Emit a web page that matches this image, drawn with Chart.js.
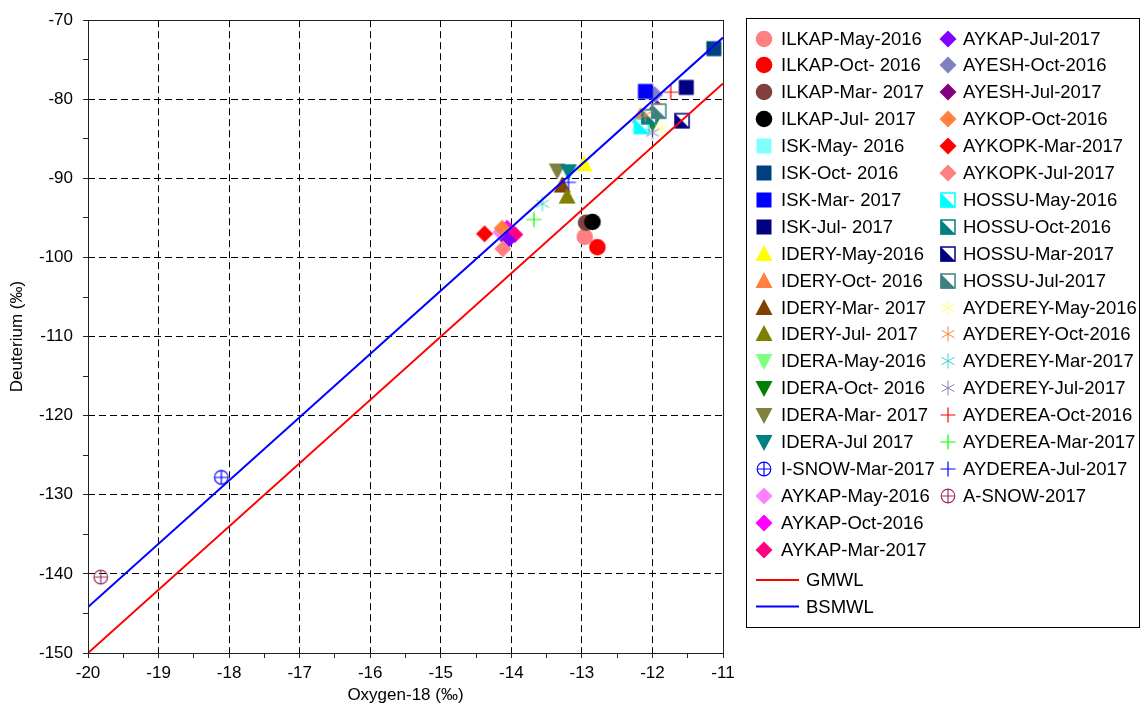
<!DOCTYPE html>
<html>
<head>
<meta charset="utf-8">
<script src="https://cdn.jsdelivr.net/npm/chart.js@4.4.1/dist/chart.umd.min.js"></script>
<style>
  html, body { margin: 0; padding: 0; background: #ffffff; }
  canvas { display: block; }
</style>
</head>
<body>
<canvas id="isotopes" width="1142" height="710"></canvas>
<script>
// Sample identifiers (station - sampling campaign)
const sampleNames = [
  'ILKAP-May-2016', 'ILKAP-Oct- 2016', 'ILKAP-Mar- 2017', 'ILKAP-Jul- 2017',
  'ISK-May- 2016', 'ISK-Oct- 2016', 'ISK-Mar- 2017', 'ISK-Jul- 2017',
  'IDERY-May-2016', 'IDERY-Oct- 2016', 'IDERY-Mar- 2017', 'IDERY-Jul- 2017',
  'IDERA-May-2016', 'IDERA-Oct- 2016', 'IDERA-Mar- 2017', 'IDERA-Jul 2017',
  'I-SNOW-Mar-2017', 'AYKAP-May-2016', 'AYKAP-Oct-2016', 'AYKAP-Mar-2017',
  'AYKAP-Jul-2017', 'AYESH-Oct-2016', 'AYESH-Jul-2017', 'AYKOP-Oct-2016',
  'AYKOPK-Mar-2017', 'AYKOPK-Jul-2017', 'HOSSU-May-2016', 'HOSSU-Oct-2016',
  'HOSSU-Mar-2017', 'HOSSU-Jul-2017', 'AYDEREY-May-2016', 'AYDEREY-Oct-2016',
  'AYDEREY-Mar-2017', 'AYDEREY-Jul-2017', 'AYDEREA-Oct-2016', 'AYDEREA-Mar-2017',
  'AYDEREA-Jul-2017', 'A-SNOW-2017'
];

// δ18O (‰ VSMOW)
const oxygen18 = [
  -12.96, -12.78, -12.94, -12.85,
  -12.17, -11.13, -12.10, -11.52,
  -12.97, -12.17, -13.28, -13.21,
  -12.05, -12.00, -13.35, -13.19,
  -18.11, -14.15, -14.06, -13.95,
  -14.05, -11.97, -11.93, -14.13,
  -14.38, -14.12, -12.15, -12.05,
  -11.58, -11.91, -11.87, -12.10,
  -13.56, -12.00, -11.74, -13.68,
  -13.19, -19.82
];

// δD (‰ VSMOW)
const deuterium = [
  -97.4, -98.7, -95.6, -95.5,
  -83.5, -73.6, -79.0, -78.5,
  -88.2, -82.1, -90.9, -92.3,
  -82.5, -83.0, -89.0, -89.1,
  -127.8, -96.8, -96.3, -97.1,
  -97.8, -79.4, -81.2, -96.3,
  -97.0, -98.9, -83.4, -82.2,
  -82.7, -81.5, -83.7, -82.0,
  -93.2, -84.2, -79.1, -95.2,
  -90.5, -140.4
];

// Meteoric water lines, end points over the plotted δ18O range
const lineNames = ['GMWL', 'BSMWL'];
const lineOxygen18 = [-20, -11];
const gmwlDeuterium = [-150, -78];
const bsmwlDeuterium = [-144.2, -72.2];

// Axis tick labels
const xTickLabels = [-20, -19, -18, -17, -16, -15, -14, -13, -12, -11];
const yTickLabels = [-150, -140, -130, -120, -110, -100, -90, -80, -70];

// Marker styling
const markerShapes = [
  'circle', 'circle', 'circle', 'circle',
  'square', 'square', 'square', 'square',
  'triUp', 'triUp', 'triUp', 'triUp',
  'triDown', 'triDown', 'triDown', 'triDown',
  'circleCross', 'diamond', 'diamond', 'diamond',
  'diamond', 'diamond', 'diamond', 'diamond',
  'diamond', 'diamond', 'halfSquare', 'halfSquare',
  'halfSquare', 'halfSquare', 'asterisk', 'asterisk',
  'asterisk', 'asterisk', 'plus', 'plus',
  'plus', 'circleCross'
];
const markerColors = [
  '#ff8080', '#ff0000', '#804040', '#000000',
  '#80ffff', '#004080', '#0000ff', '#000080',
  '#ffff00', '#ff8040', '#804000', '#808000',
  '#80ff80', '#008000', '#808040', '#008080',
  '#0000ff', '#ff80ff', '#ff00ff', '#ff0080',
  '#8000ff', '#8080c0', '#800080', '#ff8040',
  '#ff0000', '#ff8080', '#00ffff', '#008080',
  '#000080', '#408080', '#ffff80', '#ff8040',
  '#40d0d0', '#8080c0', '#ff0000', '#00ff00',
  '#0000ff', '#993366'
];
const lineColors = ['#ff0000', '#0000ff'];
// samples drawn underneath all others
const underneath = ['AYESH-Oct-2016'];

const FONT = '"Liberation Sans", Arial, Helvetica, sans-serif';

// Build a small canvas for each marker so plot and legend share the same glyph
function makeMarker(shape, color) {
  const size = 24;
  const c = document.createElement('canvas');
  c.width = size; c.height = size;
  const g = c.getContext('2d');
  g.translate(size / 2, size / 2);
  g.fillStyle = color;
  g.strokeStyle = color;
  g.lineWidth = 1;
  g.beginPath();
  switch (shape) {
    case 'circle':
      g.arc(0, 0, 8.3, 0, Math.PI * 2);
      g.fill();
      break;
    case 'square':
      g.fillRect(-7.5, -7.5, 15, 15);
      break;
    case 'triUp':
      g.moveTo(0, -9); g.lineTo(8.5, 7); g.lineTo(-8.5, 7); g.closePath();
      g.fill();
      break;
    case 'triDown':
      g.moveTo(0, 9); g.lineTo(8.5, -7); g.lineTo(-8.5, -7); g.closePath();
      g.fill();
      break;
    case 'diamond':
      g.moveTo(0, -8.5); g.lineTo(8.5, 0); g.lineTo(0, 8.5); g.lineTo(-8.5, 0); g.closePath();
      g.fill();
      break;
    case 'halfSquare':
      g.fillStyle = '#ffffff';
      g.fillRect(-7.5, -7.5, 15, 15);
      g.fillStyle = color;
      g.beginPath();
      g.moveTo(-7.5, -7.5); g.lineTo(-7.5, 7.5); g.lineTo(7.5, 7.5); g.closePath();
      g.fill();
      g.lineWidth = 1.5;
      g.strokeRect(-7, -7, 14, 14);
      break;
    case 'circleCross':
      g.lineWidth = 1.2;
      g.arc(0, 0, 6.8, 0, Math.PI * 2);
      g.moveTo(-6.8, 0); g.lineTo(6.8, 0);
      g.moveTo(0, -6.8); g.lineTo(0, 6.8);
      g.stroke();
      break;
    case 'asterisk':
      for (const a of [90, 30, -30]) {
        const r = a * Math.PI / 180;
        g.moveTo(-7.5 * Math.cos(r), -7.5 * Math.sin(r));
        g.lineTo(7.5 * Math.cos(r), 7.5 * Math.sin(r));
      }
      g.stroke();
      break;
    case 'plus':
      g.lineWidth = 1.2;
      g.moveTo(-7.5, 0); g.lineTo(7.5, 0);
      g.moveTo(0, -7.5); g.lineTo(0, 7.5);
      g.stroke();
      break;
  }
  return c;
}

const markers = markerShapes.map((s, i) => makeMarker(s, markerColors[i]));

const sampleDatasets = sampleNames.map((name, i) => ({
  type: 'scatter',
  label: name,
  data: [{ x: oxygen18[i], y: deuterium[i] }],
  pointStyle: markers[i],
  pointRadius: 8,
  pointHoverRadius: 8,
  clip: false,
  order: underneath.includes(name) ? 500 : 100 - i
}));

const lineDatasets = lineNames.map((name, k) => ({
  type: 'line',
  label: name,
  data: lineOxygen18.map((x, j) => ({ x, y: (k === 0 ? gmwlDeuterium : bsmwlDeuterium)[j] })),
  borderColor: lineColors[k],
  borderWidth: 2,
  pointRadius: 0,
  fill: false,
  order: -1 - k
}));

// Full frame around the plotting area
const framePlugin = {
  id: 'plotFrame',
  afterDatasetsDraw(chart) {
    const { ctx, chartArea: a } = chart;
    ctx.save();
    ctx.strokeStyle = '#222';
    ctx.lineWidth = 1;
    ctx.strokeRect(Math.round(a.left) + 0.5, Math.round(a.top) + 0.5,
      Math.round(a.right - a.left), Math.round(a.bottom - a.top));
    ctx.restore();
  }
};

// Two-column boxed legend with the line keys underneath
const legendPlugin = {
  id: 'sampleLegend',
  afterDraw(chart) {
    const ctx = chart.ctx;
    ctx.save();
    ctx.strokeStyle = '#000';
    ctx.lineWidth = 1;
    ctx.strokeRect(746.5, 18.5, 393, 609);
    ctx.font = '18.5px ' + FONT;
    ctx.fillStyle = '#000';
    ctx.textBaseline = 'middle';
    ctx.textAlign = 'left';
    const perColumn = 20;
    sampleNames.forEach((name, i) => {
      const col = i < perColumn ? 0 : 1;
      const row = col ? i - perColumn : i;
      const y = 38.5 + row * 26.9;
      const ix = col ? 764 : 764;
      const img = markers[i];
      const cx = col ? 947.5 : ix;
      const tx = col ? 963 : 781;
      ctx.drawImage(img, Math.round(cx - img.width / 2), Math.round(y - img.height / 2));
      ctx.fillText(name, tx, y + 1);
    });
    lineNames.forEach((name, k) => {
      const y = 580 + k * 26.5;
      ctx.strokeStyle = lineColors[k];
      ctx.lineWidth = 2;
      ctx.beginPath();
      ctx.moveTo(756, y); ctx.lineTo(799, y);
      ctx.stroke();
      ctx.fillText(name, 806, y + 1);
    });
    ctx.restore();
  }
};

const isMajor = (list, v) => list.some(t => Math.abs(t - v) < 1e-6);
const majorLabel = (list, v) => {
  const t = list.find(t => Math.abs(t - v) < 1e-6);
  return t === undefined ? '' : String(t);
};

new Chart(document.getElementById('isotopes'), {
  type: 'scatter',
  data: { datasets: [...sampleDatasets, ...lineDatasets] },
  options: {
    responsive: false,
    animation: false,
    devicePixelRatio: 1,
    layout: { padding: { left: 0, right: 419, top: 18, bottom: 0 } },
    plugins: {
      legend: { display: false },
      tooltip: { enabled: false }
    },
    scales: {
      x: {
        type: 'linear',
        min: -20, max: -11,
        afterFit(scale) { scale.height = 57; },
        border: { display: false, dash: [7, 4] },
        grid: {
          color: ctx => (ctx.tick && isMajor(xTickLabels, ctx.tick.value)) ? '#000' : 'rgba(0,0,0,0)',
          lineWidth: 1,
          tickColor: '#222',
          tickLength: 5,
          tickBorderDash: [],
          drawTicks: true
        },
        ticks: {
          stepSize: 0.5,
          autoSkip: false,
          maxRotation: 0,
          padding: 5,
          color: '#000',
          font: { family: FONT, size: 17 },
          callback: v => majorLabel(xTickLabels, v)
        },
        title: {
          display: true,
          text: 'Oxygen-18 (‰)',
          color: '#000',
          font: { family: FONT, size: 17 },
          padding: { top: 0, bottom: 4 }
        }
      },
      y: {
        type: 'linear',
        min: -150, max: -70,
        afterFit(scale) { scale.width = 88; },
        border: { display: false, dash: [7, 4] },
        grid: {
          color: ctx => (ctx.tick && isMajor(yTickLabels, ctx.tick.value)) ? '#000' : 'rgba(0,0,0,0)',
          lineWidth: 1,
          tickColor: '#222',
          tickLength: 5,
          tickBorderDash: [],
          drawTicks: true
        },
        ticks: {
          stepSize: 5,
          autoSkip: false,
          padding: 10,
          color: '#000',
          font: { family: FONT, size: 17 },
          callback: v => majorLabel(yTickLabels, v)
        },
        title: {
          display: true,
          text: 'Deuterium (‰)',
          color: '#000',
          font: { family: FONT, size: 17 },
          padding: { top: 7, bottom: 0 }
        }
      }
    }
  },
  plugins: [framePlugin, legendPlugin]
});
</script>
</body>
</html>
